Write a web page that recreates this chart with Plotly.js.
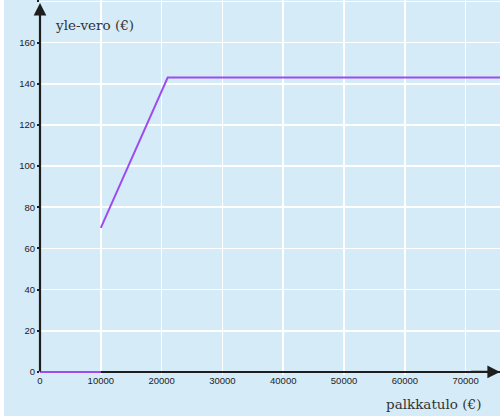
<!DOCTYPE html>
<html>
<head>
<meta charset="utf-8">
<script src="https://cdn.plot.ly/plotly-3.0.1.min.js"></script>
<style>html,body{margin:0;padding:0;background:#fff;}#chart{width:500px;height:416px;}</style>
</head>
<body>
<div id="chart"></div>
<script>
// income (€) and yle tax (€); null separates the two pieces
const income = [0, 10000, null, 10000, 21000, 76000];
const yleTax = [0, 0, null, 70, 143, 143];
const xTicks = [0, 10000, 20000, 30000, 40000, 50000, 60000, 70000];
const yTicks = [0, 20, 40, 60, 80, 100, 120, 140, 160, 180];
const yTickText = ['0', '20', '40', '60', '80', '100', '120', '140', '160', ''];
const xLabel = 'palkkatulo (€)';
const yLabel = 'yle-vero (€)';

const xMax = 75650, yMin = -1.5, yMax = 180.7;
const bg = '#d5ebf7';
const axisColor = '#1e1e1e';

const trace = {
  x: income, y: yleTax, type: 'scatter', mode: 'lines',
  line: {color: '#9d4cf2', width: 2},
  connectgaps: false, cliponaxis: false, hoverinfo: 'skip'
};

const tickFont = {family: 'Liberation Sans, Arial, sans-serif', size: 9.5, color: '#222'};

const layout = {
  width: 500, height: 416,
  margin: {l: 40, r: 0, t: 0, b: 41},
  paper_bgcolor: bg, plot_bgcolor: bg,
  showlegend: false,
  xaxis: {
    range: [0, xMax], tickvals: xTicks, ticktext: xTicks.map(String),
    showgrid: true, gridcolor: '#ffffff', gridwidth: 1.7,
    zeroline: false, showline: false,
    ticks: '', ticklabelstandoff: -2,
    tickfont: tickFont, layer: 'below traces', fixedrange: true
  },
  yaxis: {
    range: [yMin, yMax], tickvals: yTicks, ticktext: yTickText,
    showgrid: true, gridcolor: '#ffffff', gridwidth: 1.7,
    zeroline: true, zerolinecolor: axisColor, zerolinewidth: 2.2,
    showline: false,
    ticks: 'outside', ticklen: 2, tickwidth: 2, tickcolor: axisColor,
    tickfont: tickFont, layer: 'below traces', fixedrange: true
  },
  annotations: [
    {x: xMax, y: 0, ax: xMax - 5000, ay: 0, xref: 'x', yref: 'y', axref: 'x', ayref: 'y',
     text: '', showarrow: true, arrowhead: 2, arrowsize: 1.15, arrowwidth: 2.2, arrowcolor: axisColor, standoff: 0},
    {x: 0, y: 179.3, ax: 0, ay: -0.5, xref: 'x', yref: 'y', axref: 'x', ayref: 'y',
     text: '', showarrow: true, arrowhead: 2, arrowsize: 1.15, arrowwidth: 2.2, arrowcolor: axisColor, standoff: 0},
    {x: 53 / 460 - 40 / 460, y: 1 - 25 / 375, xref: 'paper', yref: 'paper', xanchor: 'left', yanchor: 'middle',
     text: yLabel, showarrow: false,
     font: {family: 'DejaVu Serif, serif', size: 13.5, color: '#333'}},
    {x: 483 / 460 - 40 / 460, y: -(404 - 375) / 375, xref: 'paper', yref: 'paper', xanchor: 'right', yanchor: 'middle',
     text: xLabel, showarrow: false,
     font: {family: 'DejaVu Serif, serif', size: 13.5, color: '#333'}}
  ],
  shapes: [
    {type: 'rect', xref: 'paper', yref: 'paper', x0: -40 / 460, x1: -36 / 460, y0: -41 / 375, y1: 1.01,
     fillcolor: '#ffffff', line: {width: 0}, layer: 'above'}
  ]
};

Plotly.newPlot('chart', [trace], layout, {displayModeBar: false, staticPlot: true});
</script>
</body>
</html>
